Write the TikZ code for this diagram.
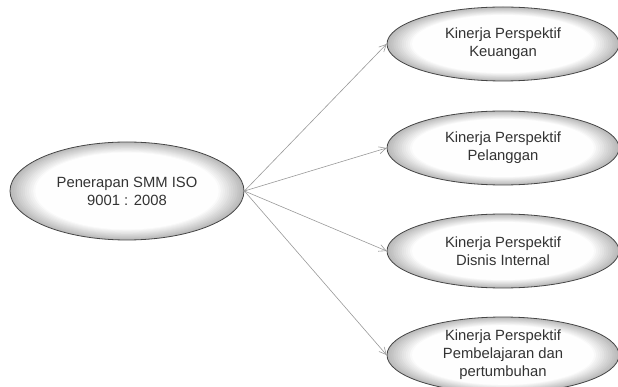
\documentclass[tikz,border=0pt]{standalone}
\usepackage{fontspec}
\setmainfont{Liberation Sans}
\usetikzlibrary{shapes.geometric,arrows.meta,calc}
\tikzset{
  glow/.style={path picture={
    \foreach \k in {0,...,12}{
      \pgfmathsetmacro\f{1-0.018*\k}
      \pgfmathsetmacro\c{int(55-4.5*\k)}
      \fill[gray!\c!white] let \p1=(path picture bounding box.north east), \p2=(path picture bounding box.center) in
        (\p2) ellipse ({\f*abs(\x1-\x2)} and {\f*abs(\y1-\y2)});
    }
  }},
  oval/.style={ellipse, draw=gray!55!black, line width=0.8pt, glow, inner sep=0pt,
    align=center, font=\fontsize{14.8}{18}\selectfont, text=black!80},
  conn/.style={draw=gray!80, line width=0.6pt, -{Straight Barb[length=7pt,width=7pt]}}
}
\begin{document}
\begin{tikzpicture}[x=1pt,y=-1pt]
\useasboundingbox (0,0) rectangle (618,387);
\node[oval, minimum width=234pt, minimum height=98pt] (src) at (127,191) {Penerapan SMM ISO\\9001 : 2008};
\node[oval, minimum width=232pt, minimum height=74pt] (k1) at (503,44) {Kinerja Perspektif\\Keuangan};
\node[oval, minimum width=232pt, minimum height=74pt] (k2) at (503,148) {Kinerja Perspektif\\Pelanggan};
\node[oval, minimum width=232pt, minimum height=74pt] (k3) at (503,251) {Kinerja Perspektif\\Disnis Internal};
\node[oval, minimum width=232pt, minimum height=76pt] (k4) at (503,355) {Kinerja Perspektif\\Pembelajaran dan\\pertumbuhan};
\foreach \t in {k1,k2,k3,k4}{
  \draw[conn] (src.east) -- (\t.west);
}
\end{tikzpicture}
\end{document}
